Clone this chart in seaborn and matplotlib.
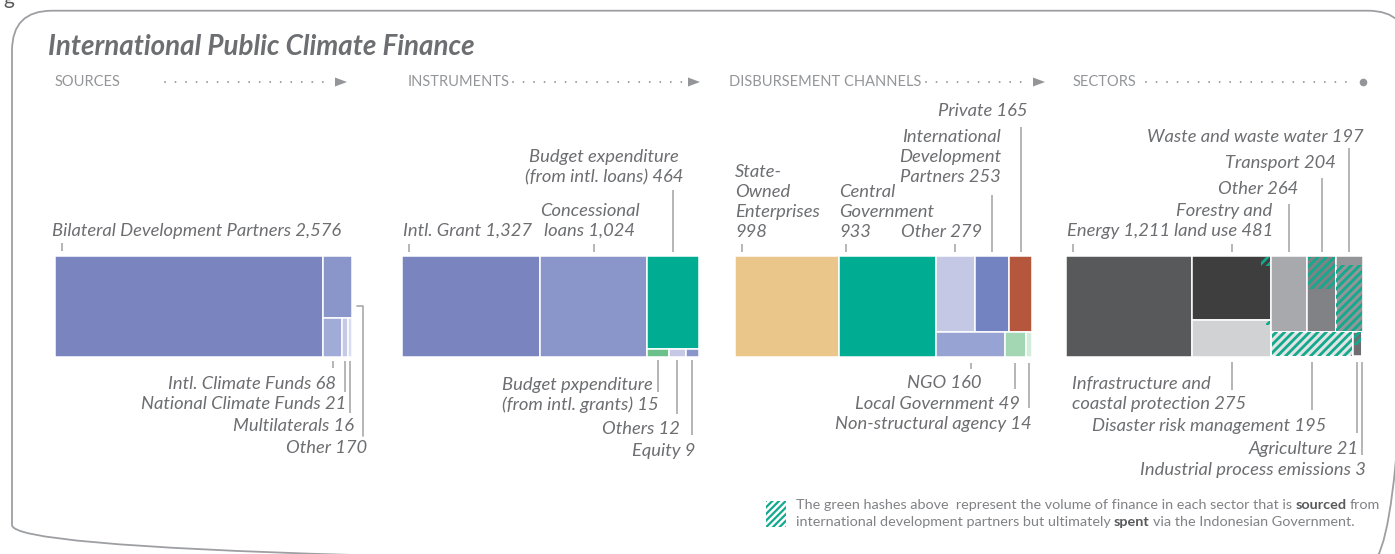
import matplotlib
matplotlib.use('Agg')
import matplotlib.pyplot as plt
from matplotlib.patches import Rectangle, FancyBboxPatch, Polygon
import seaborn as sns

# ---- data (USD millions) ----
source_names = ['Bilateral Development Partners', 'Intl. Climate Funds',
                'National Climate Funds', 'Multilaterals', 'Other']
source_vals = [2576, 68, 21, 16, 170]

instr_names = ['Intl. Grant', 'Concessional\nloans',
               'Budget expenditure\n(from intl. loans)',
               'Budget pxpenditure\n(from intl. grants)', 'Others', 'Equity']
instr_vals = [1327, 1024, 464, 15, 12, 9]

channel_names = ['State-\nOwned\nEnterprises', 'Central\nGovernment', 'Other',
                 'International\nDevelopment\nPartners', 'Private', 'NGO',
                 'Local Government', 'Non-structural agency']
channel_vals = [998, 933, 279, 253, 165, 160, 49, 14]

sector_names = ['Energy', 'Forestry and\nland use',
                'Infrastructure and\ncoastal protection', 'Other', 'Transport',
                'Waste and waste water', 'Disaster risk management',
                'Agriculture', 'Industrial process emissions']
sector_vals = [1211, 481, 275, 264, 204, 197, 195, 21, 3]
# part of each sector sourced internationally but spent via government
sector_hatched = [0, 11, 3, 0, 92, 175, 195, 12, 0]

# ---- styles ----
source_colors = ['#7a84bf', '#a0acd7', '#c5c9e6', '#d8dcef', '#8a96ca']
instr_colors = ['#7a84bf', '#8a96ca', '#00ad93', '#6cc08b', '#c5c9e6', '#8a96ca']
channel_colors = ['#eac68a', '#00ad93', '#c5c8e4', '#7382c0', '#b5573d',
                  '#97a3d3', '#a3d7b3', '#d3ecdc']
sector_colors = ['#58595b', '#3e3e3f', '#d1d2d4', '#a7a9ac', '#808285',
                 '#939598', '#e2e3e4', '#6d6e71', '#58595b']
hatch_place = ['', 'corner', 'corner', '', 'top', 'bottom', 'full', 'top', '']
value_on_own_line = {'State-\nOwned\nEnterprises', 'Central\nGovernment'}

TXT = '#6d6e71'
HEAD = '#939598'
LINE = '#a7a9ac'
TEAL = '#12a98c'
LINE_GAP = 20  # px between label lines

sns.set_theme(style='white')
LATO = ['Lato', 'DejaVu Sans']
LABEL_FONT = dict(family=LATO, style='italic', fontsize=13.2, color=TXT)

# treemap structure: ('h', ...) side by side, ('v', ...) stacked
trees = [
    ('h', [0, ('v', [4, ('h', [1, 2, 3])])]),
    ('h', [0, 1, ('v', [2, ('h', [3, 4, 5])])]),
    ('h', [0, 1, ('v', [('h', [2, 3, 4]), ('h', [5, 6, 7])])]),
    ('h', [0, ('v', [1, 2]), ('v', [('h', [3, 4, 5]), ('h', [6, 7, 8])])]),
]
panel_left = [55, 402, 735, 1066]
PANEL_W, PANEL_TOP, PANEL_H = 297, 256, 100.5


def node_sum(node, vals):
    if isinstance(node, int):
        return vals[node]
    return sum(node_sum(k, vals) for k in node[1])


def layout(node, x, y, w, h, vals, out):
    if isinstance(node, int):
        out[node] = (x, y, w, h)
        return
    kind, kids = node
    sizes = [node_sum(k, vals) for k in kids]
    tot = sum(sizes)
    pos = 0
    for k, s in zip(kids, sizes):
        if kind == 'h':
            layout(k, x + w * pos / tot, y, w * s / tot, h, vals, out)
        else:
            layout(k, x, y + h * pos / tot, w, h * s / tot, vals, out)
        pos += s


fig = plt.figure(figsize=(13.95, 5.54), dpi=100)
ax = fig.add_axes([0, 0, 1, 1])
ax.set_xlim(0, 1395)
ax.set_ylim(554, 0)
ax.axis('off')

# frame
ax.add_patch(FancyBboxPatch((12, 10.7), 1396, 554.3,
                            boxstyle='round,pad=0,rounding_size=40',
                            fc='none', ec='#9d9fa2', lw=1.3))
ax.text(3, 4.5, 'g', fontsize=15, color='#58595b', family=LATO, va='baseline')

ax.text(48, 47, 'International Public Climate Finance', fontsize=20,
        fontweight='bold', style='italic', family=LATO, color=TXT, va='center')

# stage headers with dotted arrows
headers = ['SOURCES', 'INSTRUMENTS', 'DISBURSEMENT CHANNELS', 'SECTORS']
head_x = [55, 408, 729, 1073]
dots = [(165, 333), (513, 686), (926, 1031), (1146, 1356)]
for i, (name, hx, (d0, d1)) in enumerate(zip(headers, head_x, dots)):
    ax.text(hx, 82, name, fontsize=10.5, family=LATO, color=HEAD, va='center')
    ax.plot([d0, d1], [82, 82], color=HEAD, lw=1.4,
            ls=(0, (0.01, 5.4)), dash_capstyle='round')
    if i < 3:
        ax.add_patch(Polygon([(d1 + 2, 77.5), (d1 + 14, 82), (d1 + 2, 86.5)],
                             closed=True, fc=HEAD, ec='none'))
    else:
        ax.plot(d1 + 7, 82, 'o', ms=5.5, color=HEAD, mec='none')

# ---- treemaps ----
all_vals = [source_vals, instr_vals, channel_vals, sector_vals]
all_colors = [source_colors, instr_colors, channel_colors, sector_colors]
rects = []
for p in range(4):
    out = {}
    layout(trees[p], panel_left[p], PANEL_TOP, PANEL_W, PANEL_H, all_vals[p], out)
    rects.append(out)
    for i, (x, y, w, h) in out.items():
        ax.add_patch(Rectangle((x, y), w, h, fc=all_colors[p][i], ec='white', lw=1.1))

plt.rcParams['hatch.linewidth'] = 2.0
for i, (hv, place) in enumerate(zip(sector_hatched, hatch_place)):
    if hv == 0:
        continue
    x, y, w, h = rects[3][i]
    frac = hv / sector_vals[i]
    if place == 'corner':
        side = (frac * w * h) ** 0.5
        hx, hy, hw, hh = x + w - side, y, side, side
    elif place == 'top':
        hx, hy, hw, hh = x, y, w, h * frac
    elif place == 'bottom':
        hx, hy, hw, hh = x, y + h * (1 - frac), w, h * frac
    else:
        hx, hy, hw, hh = x, y, w, h
    ax.add_patch(Rectangle((hx + 0.6, hy + 0.6), hw - 1.2, hh - 1.2, fill=False,
                           hatch='////', ec=TEAL, lw=0))


def label(p, i, name, value, tx, ty, ha, y0, y1, anchor='c', dx=None):
    # ty is the baseline of the last text line
    x, y, w, h = rects[p][i]
    lx = x + 7 if anchor == 'l' else x + w / 2
    if dx is not None:
        tx = lx + dx
    sep = '\n' if name in value_on_own_line else ' '
    lines = f'{name}{sep}{value:,}'.split('\n')
    for k, line in enumerate(reversed(lines)):
        ax.text(tx, ty - k * LINE_GAP, line, ha=ha, va='baseline', **LABEL_FONT)
    ax.plot([lx, lx], [y0, y1], color=LINE, lw=1.2, solid_capstyle='butt')


# sources
label(0, 0, source_names[0], source_vals[0], 52, 236, 'left', 243, 251, 'l')
label(0, 1, source_names[1], source_vals[1], 326, 389, 'right', 360.5, 368, dx=3)
label(0, 2, source_names[2], source_vals[2], 341.7, 409, 'right', 360.5, 392, dx=1.5)
label(0, 3, source_names[3], source_vals[3], 351.7, 431, 'right', 360.5, 413, dx=4)
ox, oy, ow, oh = rects[0][4]
ax.text(367.3, 453, f'{source_names[4]} {source_vals[4]:,}', ha='right',
        va='baseline', **LABEL_FONT)
ax.plot([ox + ow + 5, 363.3, 363.3], [305.7, 305.7, 436], color=LINE, lw=1.2)

# instruments
label(1, 0, instr_names[0], instr_vals[0], 403.3, 236, 'left', 244, 251.7, 'l')
label(1, 1, instr_names[1], instr_vals[1], 590, 236, 'center', 244, 251.7)
label(1, 2, instr_names[2], instr_vals[2], 604, 182, 'center', 190, 251.7)
label(1, 3, instr_names[3], instr_vals[3], 502, 410.3, 'left', 360, 391.7)
label(1, 4, instr_names[4], instr_vals[4], 680, 434.3, 'right', 360, 414)
label(1, 5, instr_names[5], instr_vals[5], 695.3, 456, 'right', 360, 435)

# disbursement channels
label(2, 0, channel_names[0], channel_vals[0], 735, 236.7, 'left', 244, 251.7, 'l')
label(2, 1, channel_names[1], channel_vals[1], 839.3, 236.7, 'left', 244, 251.7, 'l')
label(2, 2, channel_names[2], channel_vals[2], 981.7, 236.7, 'right', 244, 251.7)
label(2, 3, channel_names[3], channel_vals[3], 1001, 181.7, 'right', 195, 251.7)
label(2, 4, channel_names[4], channel_vals[4], 1028, 116, 'right', 126.7, 251.7)
label(2, 5, channel_names[5], channel_vals[5], 981.7, 387.7, 'right', 362.7, 369.3)
label(2, 6, channel_names[6], channel_vals[6], 1020, 408.7, 'right', 362.7, 389.3)
label(2, 7, channel_names[7], channel_vals[7], 1031.7, 429.3, 'right', 362.7, 408.3)

# sectors
label(3, 0, sector_names[0], sector_vals[0], 1066.7, 236, 'left', 244, 251.7, 'l')
label(3, 1, sector_names[1], sector_vals[1], 1224, 236, 'center', 244, 251.7)
label(3, 2, sector_names[2], sector_vals[2], 1071.7, 408.7, 'left', 361.7, 390)
label(3, 3, sector_names[3], sector_vals[3], 1298.3, 194.3, 'right', 204, 251.7)
label(3, 4, sector_names[4], sector_vals[4], 1336, 168.3, 'right', 178.3, 251.7)
label(3, 5, sector_names[5], sector_vals[5], 1363.3, 142, 'right', 148.3, 251.7)
label(3, 6, sector_names[6], sector_vals[6], 1326, 431, 'right', 361.7, 410)
label(3, 7, sector_names[7], sector_vals[7], 1358.3, 454.3, 'right', 361.7, 433.3)
label(3, 8, sector_names[8], sector_vals[8], 1366, 475.3, 'right', 361.7, 455)

# ---- footnote ----
plt.rcParams['hatch.linewidth'] = 1.6
ax.add_patch(Rectangle((766, 500.5), 20, 26, fill=False, hatch='/////', ec=TEAL, lw=0))
NOTE = dict(family=LATO, fontsize=10.4, color='#808285')
t = ax.text(796, 509, 'The green hashes above  represent the volume of finance in each '
            'sector that is', va='baseline', **NOTE)
t = ax.annotate('sourced', xy=(1, 0), xycoords=t, xytext=(2.4, 0),
                textcoords='offset points', va='bottom', fontweight='bold',
                **dict(NOTE, color='#58595b'))
ax.annotate('from', xy=(1, 0), xycoords=t, xytext=(2.4, 0),
            textcoords='offset points', va='bottom', **NOTE)
t = ax.text(796, 526, 'international development partners but ultimately',
            va='baseline', **NOTE)
t = ax.annotate('spent', xy=(1, 0), xycoords=t, xytext=(2.4, 0),
                textcoords='offset points', va='bottom', fontweight='bold',
                **dict(NOTE, color='#58595b'))
ax.annotate('via the Indonesian Government.', xy=(1, 0), xycoords=t,
            xytext=(2.4, 0), textcoords='offset points', va='bottom', **NOTE)

fig.savefig('out.png', dpi=100)
